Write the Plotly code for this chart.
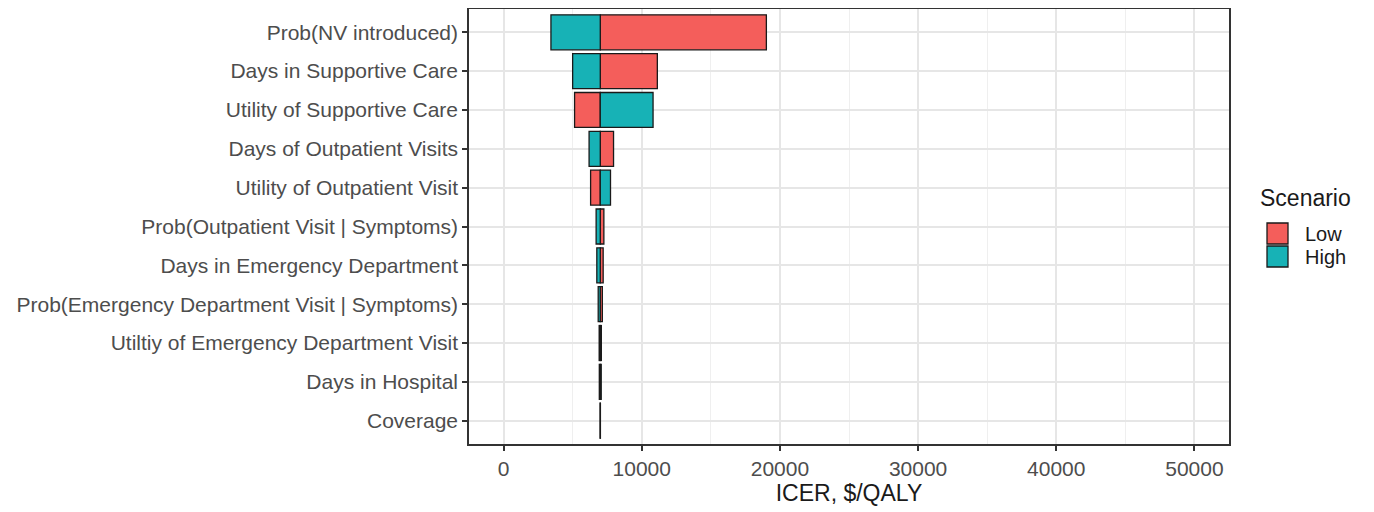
import plotly.graph_objects as go

params = [
    "Prob(NV introduced)",
    "Days in Supportive Care",
    "Utility of Supportive Care",
    "Days of Outpatient Visits",
    "Utility of Outpatient Visit",
    "Prob(Outpatient Visit | Symptoms)",
    "Days in Emergency Department",
    "Prob(Emergency Department Visit | Symptoms)",
    "Utiltiy of Emergency Department Visit",
    "Days in Hospital",
    "Coverage",
]
base_icer = 7000
low_icer = [19020, 11130, 5140, 7960, 6300, 7260, 7210, 7150, 6920, 6930, 6990]
high_icer = [3430, 5000, 10820, 6190, 7740, 6700, 6750, 6850, 7080, 7070, 7010]
x_ticks = [0, 10000, 20000, 30000, 40000, 50000]
scenarios = ["Low", "High"]

RED = "#F45E5B"
TEAL = "#17B2B6"
FONT = "Liberation Sans, Arial, Helvetica, sans-serif"
EDGE = "#1a1a1a"

fig = go.Figure()
fig.add_trace(go.Bar(
    name="Low", y=params, x=[v - base_icer for v in low_icer], base=base_icer,
    orientation="h", width=0.9, marker=dict(color=RED, line=dict(color=EDGE, width=1.3)),
    showlegend=False,
))
fig.add_trace(go.Bar(
    name="High", y=params, x=[v - base_icer for v in high_icer], base=base_icer,
    orientation="h", width=0.9, marker=dict(color=TEAL, line=dict(color=EDGE, width=1.3)),
    showlegend=False,
))

# layout geometry (figure pixels)
L, R, T, B = 461, 153, 1, 76
W, H = 1374, 512
pw, ph = W - L - R, H - T - B


def px(fx):
    return (fx - L) / pw


def py(fy):
    return (H - B - fy) / ph


# manual ggplot-style legend
shapes = []
annotations = [dict(
    text="Scenario", x=px(1250), y=py(190), xref="paper", yref="paper",
    xanchor="left", yanchor="middle", showarrow=False,
    font=dict(size=23, color="#1a1a1a", family=FONT),
)]
colors = {"Low": RED, "High": TEAL}
for i, s in enumerate(scenarios):
    y0 = 215 + i * 23
    shapes.append(dict(
        type="rect", xref="paper", yref="paper",
        x0=px(1259), x1=px(1280), y0=py(y0 + 21), y1=py(y0),
        fillcolor=colors[s], line=dict(color=EDGE, width=1.3),
    ))
    annotations.append(dict(
        text=s, x=px(1295), y=py(y0 + 11), xref="paper", yref="paper",
        xanchor="left", yanchor="middle", showarrow=False,
        font=dict(size=20, color="#1a1a1a", family=FONT),
    ))

fig.update_layout(
    width=W, height=H,
    margin=dict(l=L, r=R, t=T, b=B, autoexpand=False),
    barmode="overlay",
    plot_bgcolor="white", paper_bgcolor="white",
    font=dict(family=FONT, color="#4d4d4d", size=21),
    showlegend=False,
    shapes=shapes,
    annotations=annotations,
)
fig.update_xaxes(
    range=[-2500, 52500], tickvals=x_ticks, ticktext=[str(t) for t in x_ticks],
    showgrid=True, gridcolor="#e6e6e6", gridwidth=1.8,
    minor=dict(dtick=5000, tick0=5000, showgrid=True, gridcolor="#efefef", gridwidth=1),
    ticks="outside", ticklen=5, tickcolor="#333333", tickwidth=1.5,
    showline=True, linecolor="#333333", linewidth=1.5, mirror=True,
    zeroline=False, automargin=False,
    tickfont=dict(size=21, color="#4d4d4d"),
    title=dict(text="ICER, $/QALY", font=dict(size=23, color="#1a1a1a"), standoff=5),
)
fig.update_yaxes(
    categoryorder="array", categoryarray=params[::-1],
    range=[-0.6, len(params) - 0.4],
    showgrid=True, gridcolor="#e6e6e6", gridwidth=1.8,
    ticks="outside", ticklen=5, tickcolor="#333333", tickwidth=1.5,
    showline=True, linecolor="#333333", linewidth=1.5, mirror=True,
    tickfont=dict(size=21, color="#4d4d4d"),
    zeroline=False, automargin=False,
)

fig.write_html("out.html")
